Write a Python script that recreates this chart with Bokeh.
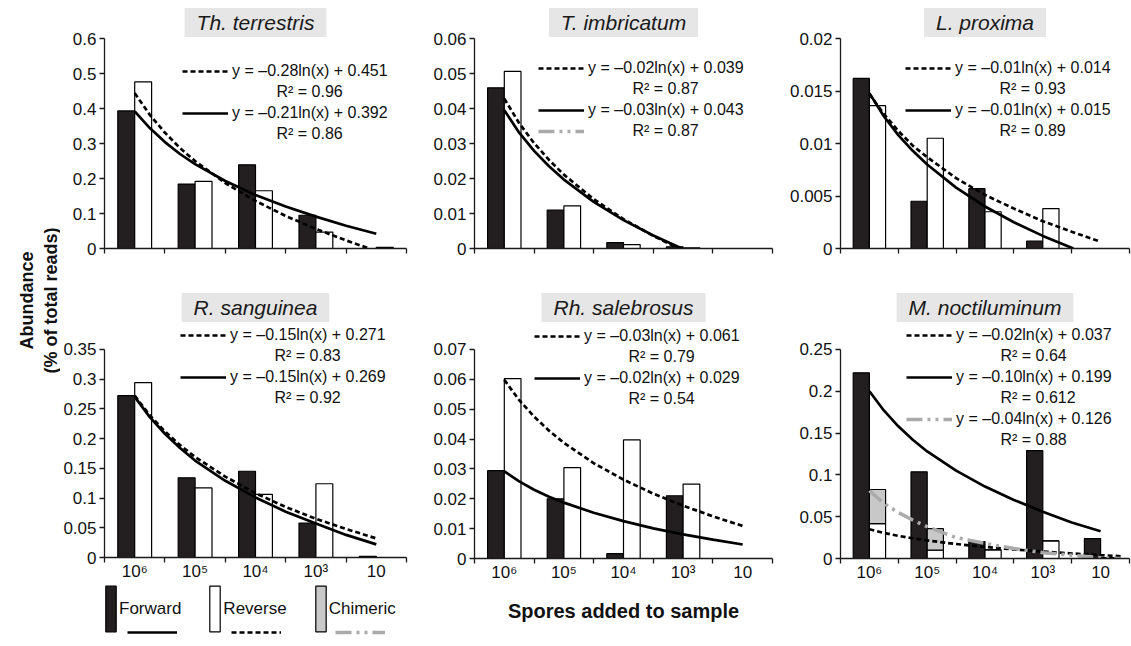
import numpy as np
from bokeh.plotting import figure
from bokeh.layouts import row, column
from bokeh.models import (Title, Legend, LegendItem, FixedTicker, Label,
                          ColumnDataSource, Range1d)
from bokeh.transform import dodge
from bokeh.embed import file_html
from bokeh.resources import INLINE

FONT = "Liberation Sans"
BLACK = "#231f20"
GREY = "#c8c8c8"
CHIM_LINE = "#aaaaaa"
NAN = float("nan")

# ---------------- data ----------------
spores = ["10⁶", "10⁵", "10⁴", "10³", "10"]
positions = [1, 2, 3, 4, 5]

# Th. terrestris
terr_fwd = [0.393, 0.184, 0.239, 0.095, 0.0]
terr_rev = [0.476, 0.192, 0.165, 0.047, 0.003]
terr_fwd_tx = [1, 1.25, 1.5, 1.75, 2, 2.5, 3, 3.5, 4, 4.5, 5]
terr_fwd_ty = [0.392, 0.344, 0.304, 0.270, 0.241, 0.193, 0.153, 0.120, 0.091, 0.065, 0.042]
terr_rev_tx = [1, 1.25, 1.5, 1.75, 2, 2.5, 3, 3.5, 4, 4.5, 4.85]
terr_rev_ty = [0.444, 0.382, 0.331, 0.287, 0.250, 0.187, 0.136, 0.093, 0.056, 0.023, 0.002]

# T. imbricatum
imbr_fwd = [0.0459, 0.0110, 0.0017, 0.0005, 0.0]
imbr_rev = [0.0506, 0.0122, 0.0011, 0.0002, 0.0]
imbr_fwd_tx = [1, 1.25, 1.5, 1.75, 2, 2.5, 3, 3.5, 3.98]
imbr_fwd_ty = [0.0395, 0.0331, 0.0279, 0.0235, 0.0197, 0.0133, 0.0081, 0.0037, 0.0]
imbr_rev_tx = [1, 1.25, 1.5, 1.75, 2, 2.5, 3, 3.5, 3.93]
imbr_rev_ty = [0.0428, 0.0358, 0.0301, 0.0253, 0.0211, 0.0141, 0.0084, 0.0036, 0.0]

# L. proxima
prox_fwd = [0.0162, 0.0045, 0.0057, 0.0007, 0.0]
prox_rev = [0.0136, 0.0105, 0.0035, 0.0038, 0.0]
prox_fwd_tx = [1, 1.25, 1.5, 1.75, 2, 2.5, 3, 3.5, 4, 4.53]
prox_fwd_ty = [0.0148, 0.0126, 0.0108, 0.0093, 0.0080, 0.0058, 0.0040, 0.0025, 0.0012, 0.0]
prox_rev_tx = [1, 1.25, 1.5, 1.75, 2, 2.5, 3, 3.5, 4, 4.5, 4.97]
prox_rev_ty = [0.0147, 0.0128, 0.0112, 0.0098, 0.0087, 0.0067, 0.0051, 0.0038, 0.0026, 0.0016, 0.0007]

# R. sanguinea
sang_fwd = [0.272, 0.134, 0.145, 0.058, 0.002]
sang_rev = [0.294, 0.117, 0.106, 0.124, 0.0]
sang_fwd_tx = [1, 1.25, 1.5, 1.75, 2, 2.5, 3, 3.5, 4, 4.5, 5]
sang_fwd_ty = [0.270, 0.236, 0.208, 0.184, 0.163, 0.129, 0.101, 0.077, 0.057, 0.038, 0.022]
sang_rev_tx = [1, 1.25, 1.5, 1.75, 2, 2.5, 3, 3.5, 4, 4.5, 5]
sang_rev_ty = [0.272, 0.239, 0.212, 0.189, 0.169, 0.136, 0.108, 0.085, 0.065, 0.048, 0.032]

# Rh. salebrosus
sale_fwd = [0.0294, 0.0200, 0.0016, 0.0210, 0.0]
sale_rev = [0.0602, 0.0304, 0.0397, 0.0249, 0.0]
sale_fwd_tx = [1, 1.25, 1.5, 1.75, 2, 2.5, 3, 3.5, 4, 4.5, 5]
sale_fwd_ty = [0.0292, 0.0258, 0.0230, 0.0207, 0.0187, 0.0153, 0.0125, 0.0101, 0.0081, 0.0063, 0.0047]
sale_rev_tx = [1, 1.25, 1.5, 1.75, 2, 2.5, 3, 3.5, 4, 4.5, 5]
sale_rev_ty = [0.0598, 0.0530, 0.0475, 0.0428, 0.0387, 0.0319, 0.0264, 0.0217, 0.0177, 0.0141, 0.0109]

# M. noctiluminum
noct_fwd = [0.222, 0.1036, 0.0202, 0.129, 0.0238]
noct_rev = [0.0417, 0.0099, 0.0103, 0.021, 0.001]
noct_chim = [0.0408, 0.0258, 0.0, 0.0, 0.0]
noct_fwd_tx = [1, 1.25, 1.5, 1.75, 2, 2.5, 3, 3.5, 4, 4.5, 5]
noct_fwd_ty = [0.200, 0.177, 0.158, 0.142, 0.128, 0.105, 0.086, 0.070, 0.056, 0.043, 0.0325]
noct_rev_tx = [1, 1.25, 1.5, 1.75, 2, 2.5, 3, 3.5, 4, 4.5, 5, 5.35]
noct_rev_ty = [0.0349, 0.0306, 0.0271, 0.0242, 0.0216, 0.0173, 0.0138, 0.0108, 0.0083, 0.0060, 0.0040, 0.0027]
noct_chim_tx = [1, 1.25, 1.5, 1.75, 2, 2.5, 3, 3.5, 4, 4.5, 5, 5.35]
noct_chim_ty = [0.081, 0.066, 0.055, 0.046, 0.038, 0.025, 0.018, 0.012, 0.007, 0.004, 0.001, 0.0]

key_labels = ["Forward", "Reverse", "Chimeric"]

IND = "\u00a0" * 10
PANELS = [
    dict(name="Th. terrestris", fwd=terr_fwd, rev=terr_rev, chim=None,
         tf=(terr_fwd_tx, terr_fwd_ty), tr=(terr_rev_tx, terr_rev_ty), tc=None,
         top=0.6, step=0.1, col=0, row=0, loc=(78, 105), toff=6,
         leg=[("rev", "y = –0.28ln(x) + 0.451"), (None, IND + "R² = 0.96"),
              ("fwd", "y = –0.21ln(x) + 0.392"), (None, IND + "R² = 0.86")]),
    dict(name="T. imbricatum", fwd=imbr_fwd, rev=imbr_rev, chim=None,
         tf=(imbr_fwd_tx, imbr_fwd_ty), tr=(imbr_rev_tx, imbr_rev_ty), tc=None,
         top=0.06, step=0.01, col=1, row=0, loc=(64, 108), toff=5,
         leg=[("rev", "y = –0.02ln(x) + 0.039"), (None, IND + "R² = 0.87"),
              ("fwd", "y = –0.03ln(x) + 0.043"), ("chim", IND + "R² = 0.87")]),
    dict(name="L. proxima", fwd=prox_fwd, rev=prox_rev, chim=None,
         tf=(prox_fwd_tx, prox_fwd_ty), tr=(prox_rev_tx, prox_rev_ty), tc=None,
         top=0.02, step=0.005, col=2, row=0, loc=(65, 108), toff=2,
         leg=[("rev", "y = –0.01ln(x) + 0.014"), (None, IND + "R² = 0.93"),
              ("fwd", "y = –0.01ln(x) + 0.015"), (None, IND + "R² = 0.89")]),
    dict(name="R. sanguinea", fwd=sang_fwd, rev=sang_rev, chim=None,
         tf=(sang_fwd_tx, sang_fwd_ty), tr=(sang_rev_tx, sang_rev_ty), tc=None,
         top=0.35, step=0.05, col=0, row=1, loc=(76, 150), toff=11,
         leg=[("rev", "y = –0.15ln(x) + 0.271"), (None, IND + "R² = 0.83"),
              ("fwd", "y = –0.15ln(x) + 0.269"), (None, IND + "R² = 0.92")]),
    dict(name="Rh. salebrosus", fwd=sale_fwd, rev=sale_rev, chim=None,
         tf=(sale_fwd_tx, sale_fwd_ty), tr=(sale_rev_tx, sale_rev_ty), tc=None,
         top=0.07, step=0.01, col=1, row=1, loc=(60, 150), toff=14,
         leg=[("rev", "y = –0.03ln(x) + 0.061"), (None, IND + "R² = 0.79"),
              ("fwd", "y = –0.02ln(x) + 0.029"), (None, IND + "R² = 0.54")]),
    dict(name="M. noctiluminum", fwd=noct_fwd, rev=noct_rev, chim=noct_chim,
         tf=(noct_fwd_tx, noct_fwd_ty), tr=(noct_rev_tx, noct_rev_ty),
         tc=(noct_chim_tx, noct_chim_ty),
         top=0.25, step=0.05, col=2, row=1, loc=(66, 109), toff=12,
         leg=[("rev", "y = –0.02ln(x) + 0.037"), (None, IND + "R² = 0.64"),
              ("fwd", "y = –0.10ln(x) + 0.199"), (None, IND + "R² = 0.612"),
              ("chim", "y = –0.04ln(x) + 0.126"), (None, IND + "R² = 0.88")]),
]

# ---------------- layout geometry ----------------
ROWS = [dict(height=289, min_border_top=38, min_border_bottom=41),
        dict(height=347, min_border_top=33, min_border_bottom=78)]
COLS = [dict(width=364, min_border_left=44, min_border_right=18),
        dict(width=360, min_border_left=50, min_border_right=12),
        dict(width=347, min_border_left=56, min_border_right=2)]
TICK_SPAN = 210
FRAME_H = [210, 236]
LEFT_BOTTOM_BORDER = 25
KEY_H = 63

STY = {
    "fwd": dict(line_color="black", line_width=2.7),
    "rev": dict(line_color="black", line_width=2.7, line_dash="5 3"),
    "chim": dict(line_color=CHIM_LINE, line_width=3.5, line_dash="16 5 3 5 3 5"),
}


def style_axes(p):
    for ax in p.axis:
        ax.axis_line_color = "#1a1a1a"
        ax.axis_line_width = 1.3
        ax.major_tick_line_color = "#1a1a1a"
        ax.major_tick_line_width = 1.3
        ax.minor_tick_line_color = "#1a1a1a"
        ax.minor_tick_line_width = 1.3
        ax.major_label_text_font = FONT
        ax.major_label_text_font_size = "17px"
        ax.major_label_text_color = "#111111"


def make_panel(d, bottom_border=None):
    c = COLS[d["col"]]
    r = ROWS[d["row"]]
    fh = FRAME_H[d["row"]]
    mbb = r["min_border_bottom"] if bottom_border is None else bottom_border
    height = r["min_border_top"] + fh + mbb
    y_end = d["top"] * fh / TICK_SPAN
    p = figure(width=c["width"], height=height,
               min_border_left=c["min_border_left"], min_border_right=c["min_border_right"],
               min_border_top=r["min_border_top"], min_border_bottom=mbb,
               x_range=Range1d(0.5, 5.5), y_range=Range1d(0, y_end),
               toolbar_location=None, tools="", output_backend="svg")
    p.outline_line_color = None
    p.xgrid.visible = False
    p.ygrid.visible = False

    p.title = Title(text=d["name"], align="center", text_font=FONT,
                    text_font_style="italic", text_font_size="21px", text_color="#1a1a1a",
                    background_fill_color="#e6e6e6", padding=(12, 3), standoff=3,
                    offset=d["toff"])

    src = ColumnDataSource(dict(x=positions, fwd=d["fwd"], rev=d["rev"],
                                chim=d["chim"] if d["chim"] else [0] * 5))
    p.vbar(x=dodge("x", -0.14), top="fwd", width=0.28, source=src,
           fill_color=BLACK, line_color="black", line_width=1.2)
    if d["chim"]:
        p.vbar_stack(["rev", "chim"], x=dodge("x", 0.14), width=0.28, source=src,
                     fill_color=["white", GREY], line_color="black", line_width=1.2)
    else:
        p.vbar(x=dodge("x", 0.14), top="rev", width=0.28, source=src,
               fill_color="white", line_color="black", line_width=1.2)

    lines = {}
    lines["rev"] = p.line(d["tr"][0], d["tr"][1], **STY["rev"])
    lines["fwd"] = p.line(d["tf"][0], d["tf"][1], **STY["fwd"])
    if d["tc"]:
        lines["chim"] = p.line(d["tc"][0], d["tc"][1], **STY["chim"])
    else:
        lines["chim"] = p.line(x=[NAN], y=[NAN], **STY["chim"])
    blank = p.line(x=[NAN], y=[NAN], line_alpha=0)

    items = [LegendItem(label=lab, renderers=[lines[s] if s else blank]) for s, lab in d["leg"]]
    leg = Legend(items=items, location=d["loc"], glyph_width=46, glyph_height=18,
                 label_height=18, label_standoff=4, spacing=3, padding=0, margin=0,
                 border_line_color=None, background_fill_alpha=0,
                 label_text_font=FONT, label_text_font_size="16px", label_text_color="#111111")
    p.add_layout(leg)

    yt = [round(i * d["step"], 6) for i in range(int(round(d["top"] / d["step"])) + 1)]
    p.yaxis.ticker = FixedTicker(ticks=yt, minor_ticks=[])
    p.yaxis.major_label_overrides = {t: f"{t:g}" for t in yt}
    p.yaxis.bounds = (0, d["top"])
    p.yaxis.major_tick_out = 5
    p.yaxis.major_tick_in = 0
    p.yaxis.major_label_standoff = 3

    bounds = [0.5 + i for i in range(6)]
    if d["row"] == 0:
        p.xaxis.ticker = FixedTicker(ticks=[], minor_ticks=bounds)
    else:
        p.xaxis.ticker = FixedTicker(ticks=positions, minor_ticks=bounds)
        p.xaxis.major_label_overrides = {pos: s for pos, s in zip(positions, spores)}
    p.xaxis.major_tick_out = 0
    p.xaxis.major_tick_in = 0
    p.xaxis.minor_tick_out = 5
    p.xaxis.minor_tick_in = 0
    p.xaxis.major_label_standoff = -1
    style_axes(p)
    return p


figs = []
for i, d in enumerate(PANELS):
    figs.append(make_panel(d, bottom_border=LEFT_BOTTOM_BORDER if i == 3 else None))

# x-axis title on the middle bottom panel
p5 = figs[4]
p5.xaxis.axis_label = "Spores added to sample"
p5.xaxis.axis_label_text_font = FONT
p5.xaxis.axis_label_text_font_style = "bold"
p5.xaxis.axis_label_text_font_size = "20px"
p5.xaxis.axis_label_text_color = "#111111"
p5.xaxis.axis_label_standoff = 15

# key (legend for bars and trend lines) under bottom-left panel
key = figure(width=COLS[0]["width"], height=KEY_H, x_range=(0, 1), y_range=(0, 1),
             x_axis_location=None, y_axis_location=None, min_border=0,
             toolbar_location=None, tools="", output_backend="svg")
key.outline_line_color = None
key.grid.visible = False
kb = [key.vbar(x=[NAN], top=[NAN], width=0.1, fill_color=fc, line_color="black", line_width=1.2)
      for fc in [BLACK, "white", GREY]]
kl = [key.line(x=[NAN], y=[NAN], **STY[s]) for s in ["fwd", "rev", "chim"]]
key.add_layout(Legend(items=[LegendItem(label=t, renderers=[r]) for t, r in zip(key_labels, kb)],
                      orientation="horizontal", location=(0, 9),
                      glyph_width=13, glyph_height=57, label_standoff=2, spacing=27,
                      padding=0, margin=0, border_line_color=None, background_fill_alpha=0,
                      label_text_font=FONT, label_text_font_size="17px",
                      label_text_color="#111111"))
key.add_layout(Legend(items=[LegendItem(label=" ", renderers=[r]) for r in kl],
                      orientation="horizontal", location=(23, 9),
                      glyph_width=50, glyph_height=10, label_height=10, label_width=0,
                      label_standoff=0, spacing=54,
                      padding=0, margin=0, border_line_color=None, background_fill_alpha=0,
                      label_text_font=FONT, label_text_font_size="10px"))

# shared y-axis title
lab = figure(width=60, height=646, x_range=(0, 1), y_range=(0, 1),
             x_axis_location=None, y_axis_location=None, min_border=0,
             toolbar_location=None, tools="", output_backend="svg")
lab.outline_line_color = None
lab.grid.visible = False
lab.add_layout(Label(x=38, y=346, x_units="screen", y_units="screen",
                     text="Abundance\n(% of total reads)", angle=np.pi / 2,
                     text_align="center", text_baseline="middle", text_font=FONT,
                     text_font_style="bold", text_font_size="18px", text_color="#111111"))

layout = row(lab, column(row(figs[0], figs[1], figs[2]),
                         row(column(figs[3], key), figs[4], figs[5])))

open("out.html", "w").write(file_html(layout, INLINE))
